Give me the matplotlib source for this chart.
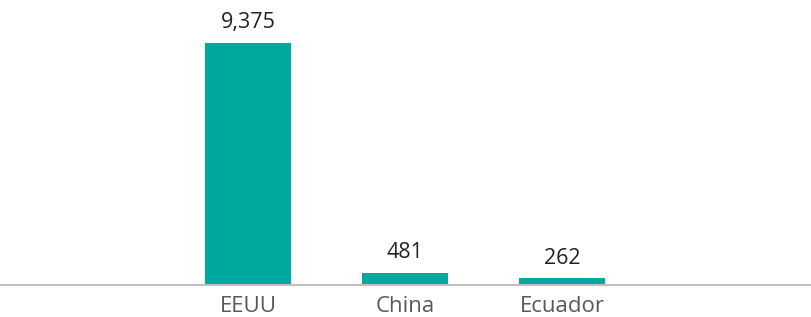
import matplotlib
matplotlib.use("Agg")
import matplotlib.pyplot as plt
import numpy as np

countries = ["EEUU", "China", "Ecuador"]
values = [9375, 481, 262]

TEAL = "#00a99d"

plt.rcParams["font.family"] = ["Open Sans", "DejaVu Sans"]

fig = plt.figure(figsize=(8.11, 3.17), dpi=100)
ax = fig.add_axes([0, 32 / 317, 1, 285 / 317])

x = np.arange(len(countries))
bars = ax.bar(x, values, width=0.548, color=TEAL, zorder=2)

# value labels above bars
for rect, v in zip(bars, values):
    ax.annotate(f"{v:,}", (rect.get_x() + rect.get_width() / 2, rect.get_height()),
                xytext=(0, 7), textcoords="offset points",
                ha="center", va="bottom", fontsize=15.5, color="#222222")

ax.set_xlim(-1.58, 3.586)
ax.set_ylim(0, 9375 * 285 / 242)
ax.set_xticks(x)
ax.set_xticklabels(countries, fontsize=16, color="#595959")
ax.tick_params(axis="x", length=0, pad=8)
ax.set_yticks([])

for s in ["top", "right", "left"]:
    ax.spines[s].set_visible(False)
ax.spines["bottom"].set_color("#bfbfbf")
ax.spines["bottom"].set_linewidth(1.5)

fig.savefig("out.png", dpi=100)
